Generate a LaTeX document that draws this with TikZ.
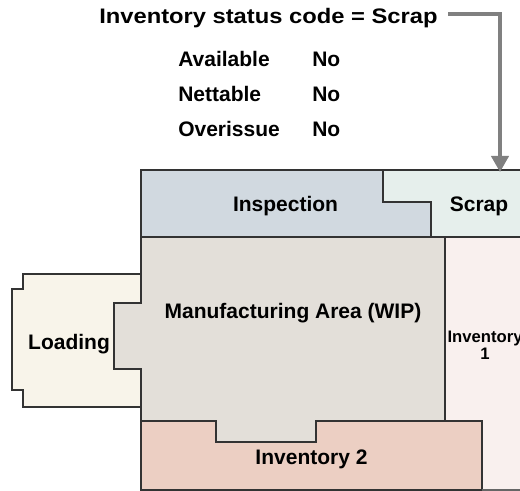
\documentclass[tikz,border=0pt]{standalone}
\usepackage{fontspec}
\usepackage{graphicx}
\setmainfont{Liberation Sans}
\usetikzlibrary{arrows.meta}
\definecolor{inspC}{HTML}{D1D9E0}
\definecolor{scrapC}{HTML}{E6EFEC}
\definecolor{mfgC}{HTML}{E3DFD9}
\definecolor{loadC}{HTML}{F8F4EA}
\definecolor{invoneC}{HTML}{F9F0EE}
\definecolor{invtwoC}{HTML}{ECCFC3}
\definecolor{edgeC}{HTML}{333333}
\definecolor{arrC}{HTML}{808080}
\tikzset{
  area/.style={draw=edgeC, line width=0.9pt, line join=miter},
  lbl/.style={inner sep=0pt, anchor=base, font=\fontsize{15.75}{18}\selectfont\bfseries},
  lblw/.style={inner sep=0pt, anchor=base west, font=\fontsize{15.75}{18}\selectfont\bfseries},
  lblsmall/.style={inner sep=0pt, anchor=base, font=\fontsize{12.5}{14}\selectfont\bfseries},
  arr/.style={draw=arrC, line width=2.3pt, -{Triangle[width=13pt,length=12pt]}}
}
\begin{document}
\begin{tikzpicture}[x=0.75pt,y=-0.75pt]
\useasboundingbox (0,0) rectangle (520,491);
% Scrap (right edge open, at picture border)
\fill[scrapC] (383,170) -- (520,170) -- (520,237) -- (431,237) -- (431,202) -- (383,202) -- cycle;
\draw[area] (520,170) -- (383,170) -- (383,202) -- (431,202) -- (431,237) -- (520,237);
% Inventory 1
\fill[invoneC] (445,237) -- (520,237) -- (520,491) -- (482,491) -- (482,421) -- (445,421) -- cycle;
% Inspection
\filldraw[area, fill=inspC] (141,170) -- (383,170) -- (383,202) -- (431,202) -- (431,237) -- (141,237) -- cycle;
% Loading
\filldraw[area, fill=loadC] (23,274) -- (141,274) -- (141,303) -- (114,303) -- (114,369) -- (141,369) -- (141,407) -- (23,407) -- (23,390) -- (12,390) -- (12,289) -- (23,289) -- cycle;
% Inventory 2
\filldraw[area, fill=invtwoC] (141,421) -- (216,421) -- (216,442) -- (316,442) -- (316,421) -- (482,421) -- (482,490) -- (141,490) -- cycle;
\draw[draw=black!60, line width=0.9pt] (482,490) -- (520,490);
% Manufacturing
\filldraw[area, fill=mfgC] (141,237) -- (445,237) -- (445,421) -- (316,421) -- (316,442) -- (216,442) -- (216,421) -- (141,421) -- (141,369) -- (114,369) -- (114,303) -- (141,303) -- cycle;
\draw[area] (445,237) -- (520,237);

% labels
\node[lbl] (insp) at (285.5,211.5) {Inspection};
\node[lbl] (scrap) at (479,212) {Scrap};
\node[lbl] (mfg) at (293,318) {Manufacturing Area (WIP)};
\node[lbl] (load) at (69,349) {Loading};
\node[lbl] (inv2) at (311.5,464) {Inventory 2};
\node[lblsmall, align=center, anchor=base] (inv1) at (485,359) {Inventory\\[-1.5pt]1};

% title and table
\node[lblw] (title) at (99,24) {\scalebox{1.13}[1]{Inventory status code = Scrap}};
\node[lblw] (avail) at (178,67) {Available};
\node[lblw] (availv) at (312,67) {No};
\node[lblw] (nett) at (178,102) {Nettable};
\node[lblw] (nettv) at (312,102) {No};
\node[lblw] (over) at (178,137) {Overissue};
\node[lblw] (overv) at (312,137) {No};

\coordinate (scraptop) at (500,172);
\coordinate (tstart) at (448,14);
\draw[arr] (tstart) -| (scraptop);
\end{tikzpicture}
\end{document}
